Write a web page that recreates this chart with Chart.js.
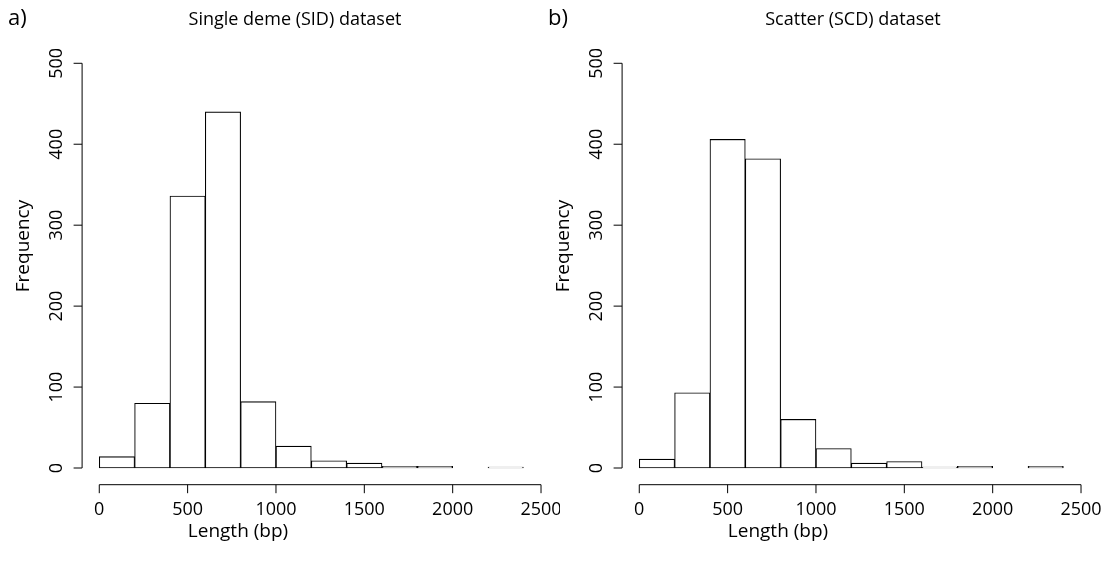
<!DOCTYPE html>
<html><head><meta charset="utf-8">
<script src="https://cdn.jsdelivr.net/npm/chart.js@4"></script>
<style>
html,body{margin:0;padding:0;background:#fff;}
body{width:1113px;height:562px;position:relative;overflow:hidden;}
canvas{position:absolute;top:0;}
</style>
</head><body>
<canvas id="c1" width="560" height="562" style="left:0px"></canvas>
<canvas id="c2" width="573" height="562" style="left:540px"></canvas>
<script>
// ---- data ----
const binStarts = [0,200,400,600,800,1000,1200,1400,1600,1800,2000,2200];
const binWidth = 200;
const sidCounts = [14,80,336,440,82,27,9,6,2,2,0,1];
const scdCounts = [11,93,406,382,60,24,6,8,1,2,0,2];
const xTicks = [0,500,1000,1500,2000,2500];
const yTicks = [0,100,200,300,400,500];
const panelTitles = ['Single deme (SID) dataset','Scatter (SCD) dataset'];
const panelLetters = ['a)','b)'];
const xLabel = 'Length (bp)';
const yLabel = 'Frequency';

// ---- layout / style ----
const FONT = '"Open Sans", "DejaVu Sans", sans-serif';
const layoutCfg = {
  pad: {left:81.6, top:47.1, bottom:77.8},
  titleX: [295, 313],
  titleY: 25,
  letterX: 8,
  letterY: 25,
  xTickLabelY: 515,
  xLabelX: [238, 238],
  xLabelY: 537,
  yTickLabelX: 62,
  yLabelX: 29,
  yLabelY: 246,
  tickLen: 8.5
};

function rAxesPlugin(idx){
  return {
    id:'rAxes'+idx,
    afterDraw(chart){
      const ctx = chart.ctx, xs = chart.scales.x, ys = chart.scales.y, ca = chart.chartArea;
      ctx.save();
      ctx.strokeStyle = '#000'; ctx.fillStyle = '#000'; ctx.lineWidth = 1;
      // x axis
      const xa = ca.bottom + 0.5;
      ctx.beginPath();
      ctx.moveTo(xs.getPixelForValue(xTicks[0]), xa);
      ctx.lineTo(xs.getPixelForValue(xTicks[xTicks.length-1]), xa);
      xTicks.forEach(v=>{ const p = xs.getPixelForValue(v); ctx.moveTo(p, xa); ctx.lineTo(p, xa + layoutCfg.tickLen); });
      ctx.stroke();
      ctx.font = '18px ' + FONT; ctx.textAlign = 'center'; ctx.textBaseline = 'alphabetic';
      xTicks.forEach(v=>{ ctx.fillText(String(v), xs.getPixelForValue(v), layoutCfg.xTickLabelY); });
      ctx.font = '19px ' + FONT;
      ctx.fillText(xLabel, layoutCfg.xLabelX[idx], layoutCfg.xLabelY);
      // y axis
      const ya = ca.left + 0.5;
      ctx.beginPath();
      ctx.moveTo(ya, ys.getPixelForValue(yTicks[0]));
      ctx.lineTo(ya, ys.getPixelForValue(yTicks[yTicks.length-1]));
      yTicks.forEach(v=>{ const p = ys.getPixelForValue(v); ctx.moveTo(ya, p); ctx.lineTo(ya - layoutCfg.tickLen, p); });
      ctx.stroke();
      ctx.font = '18px ' + FONT;
      yTicks.forEach(v=>{
        ctx.save(); ctx.translate(layoutCfg.yTickLabelX, ys.getPixelForValue(v)); ctx.rotate(-Math.PI/2);
        ctx.fillText(String(v), 0, 0); ctx.restore();
      });
      ctx.font = '19px ' + FONT;
      ctx.save(); ctx.translate(layoutCfg.yLabelX, layoutCfg.yLabelY); ctx.rotate(-Math.PI/2);
      ctx.fillText(yLabel, 0, 0); ctx.restore();
      // title + letter
      ctx.font = '18px ' + FONT;
      ctx.fillText(panelTitles[idx], layoutCfg.titleX[idx], layoutCfg.titleY);
      ctx.font = '22px ' + FONT; ctx.textAlign = 'left';
      ctx.fillText(panelLetters[idx], layoutCfg.letterX, layoutCfg.letterY);
      ctx.restore();
    }
  };
}

function makeChart(id, counts, idx, rightPad){
  const pts = binStarts.map((s,i)=>({x: s + binWidth/2, y: counts[i]}));
  return new Chart(document.getElementById(id), {
    type:'bar',
    data:{ datasets:[{ data: pts, backgroundColor:'#fff', borderColor:'#000', borderWidth:1.1, borderSkipped:false, barPercentage:1, categoryPercentage:1, minBarLength:0 }]},
    options:{
      responsive:false, animation:false, devicePixelRatio:1,
      layout:{ padding:{ left:layoutCfg.pad.left, right:rightPad, top:layoutCfg.pad.top, bottom:layoutCfg.pad.bottom } },
      plugins:{ legend:{display:false}, tooltip:{enabled:false}, title:{display:false} },
      scales:{
        x:{ type:'linear', min:-100, max:2600, offset:false, display:false },
        y:{ min:-20, max:520, display:false }
      }
    },
    plugins:[rAxesPlugin(idx)]
  });
}
makeChart('c1', sidCounts, 0, 560-558.7);
makeChart('c2', scdCounts, 1, 573-558.7);
</script>
</body></html>
